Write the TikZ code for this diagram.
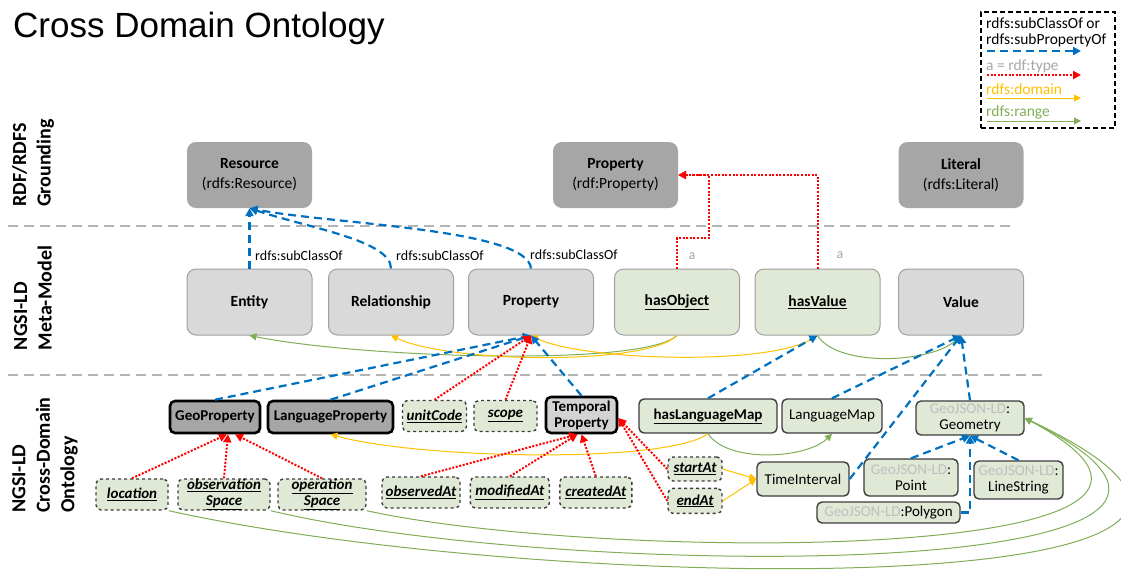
\documentclass[tikz,border=0pt]{standalone}
\usepackage{fontspec}
\setmainfont{Carlito}
\newfontfamily\titlefont{Liberation Sans}
\usetikzlibrary{positioning, arrows.meta}
\definecolor{rdf_gray}{HTML}{A6A6A6}
\definecolor{meta_gray}{HTML}{D9D9D9}
\definecolor{edge_gray}{HTML}{A0A0A0}
\definecolor{temp_gray}{HTML}{D3D3D3}
\definecolor{onto_green}{HTML}{E0E9D5}
\definecolor{dark_edge}{HTML}{3C3C3C}
\definecolor{sub_blue}{HTML}{0070C0}
\definecolor{type_red}{HTML}{FF0000}
\definecolor{dom_orange}{HTML}{FFC000}
\definecolor{rng_green}{HTML}{7FAE55}
\definecolor{sep_gray}{HTML}{B4B4B4}
\definecolor{geo_gray}{HTML}{BFBFBF}
\definecolor{label_gray}{HTML}{A6A6A6}
\newcommand{\geold}{\textcolor{geo_gray}{GeoJSON-LD}:}

\begin{document}
\begin{tikzpicture}[
    % --- Global Settings ---
    % Pixel-like units, y grows downwards
    x=1pt, y=-1pt,
    % Font for all nodes in the picture
    every node/.style={font=\fontsize{15.5}{17}\selectfont, inner sep=1pt, align=center}
  ]

  % --- Style Definitions ---
  \tikzset{
    % RDF/RDFS grounding boxes (dark gray, no border)
    rdfbox/.style={
      fill=rdf_gray,
      rounded corners=9pt,
      minimum width=125pt,
      minimum height=66pt,
      font=\fontsize{15.5}{20}\selectfont
    },
    % Meta-model boxes (light gray, thin gray border)
    metabox/.style={
      fill=meta_gray,
      draw=edge_gray,
      line width=1pt,
      rounded corners=9pt,
      minimum width=125pt,
      minimum height=66pt,
      font=\fontsize{15.5}{17}\selectfont\bfseries
    },
    % Meta-model properties (green)
    metaprop/.style={metabox, fill=onto_green},
    % Cross-domain classes (thick black border)
    classbox/.style={
      fill=rdf_gray,
      draw=black,
      line width=2.6pt,
      rounded corners=5pt,
      minimum height=32pt,
      font=\fontsize{15}{16}\selectfont\bfseries
    },
    % Cross-domain properties (dashed border)
    propbox/.style={
      fill=onto_green,
      draw=dark_edge,
      dashed,
      line width=1.4pt,
      rounded corners=5pt,
      minimum height=31pt,
      font=\fontsize{15}{16}\selectfont\bfseries\itshape
    },
    % Cross-domain values (solid border)
    valbox/.style={
      fill=onto_green,
      draw=dark_edge,
      line width=1.4pt,
      rounded corners=5pt,
      font=\fontsize{15}{16}\selectfont
    },
    % rdfs:subClassOf / rdfs:subPropertyOf
    subarrow/.style={
      draw=sub_blue,
      line width=2.2pt,
      dash pattern=on 8pt off 5pt,
      -{Triangle[length=8pt, width=8pt]}
    },
    % a = rdf:type
    typearrow/.style={
      draw=type_red,
      line width=2pt,
      dash pattern=on 2pt off 1.6pt,
      -{Triangle[length=8pt, width=8pt]}
    },
    % rdfs:domain
    domarrow/.style={
      draw=dom_orange,
      line width=1pt,
      -{Triangle[length=7pt, width=7pt]}
    },
    % rdfs:range
    rngarrow/.style={
      draw=rng_green,
      line width=1pt,
      -{Triangle[length=7pt, width=7pt]}
    },
    % Dashed lines between the layers
    sepline/.style={draw=sep_gray, line width=2pt, dash pattern=on 10pt off 6pt},
    % Layer names on the left
    lane/.style={rotate=90, align=left, font=\fontsize{20}{24.5}\selectfont\bfseries},
    % Edge labels
    relname/.style={font=\fontsize{14}{16}\selectfont, anchor=west},
    % Legend texts
    legtext/.style={font=\fontsize{15.5}{17}\selectfont, anchor=west, inner sep=0pt}
  }

  \useasboundingbox (0,0) rectangle (1121,579);

  % Title
  \node[font=\titlefont\fontsize{35}{40}\selectfont, anchor=base west, inner sep=0pt] (title) at (13,37) {Cross Domain Ontology};

  % --- Layers ---
  \node[lane] (lane1) at (33,163) {RDF/RDFS\\Grounding};
  \node[lane] (lane2) at (33,298) {NGSI-LD\\Meta-Model};
  \node[lane] (lane3) at (45,455) {NGSI-LD\\Cross-Domain\\Ontology};
  \draw[sepline] (8,226) -- (1010,226);
  \draw[sepline] (8,375) -- (1045,375);

  % --- Node Placement ---
  % RDF/RDFS grounding
  \node[rdfbox] (resource) at (249.5,175) {\textbf{Resource}\\(rdfs:Resource)};
  \node[rdfbox] (rdfprop) at (615.5,175) {\textbf{Property}\\(rdf:Property)};
  \node[rdfbox] (literal) at (961,175) {\textbf{Literal}\\(rdfs:Literal)};

  % NGSI-LD meta-model
  \node[metabox] (entity) at (249.5,302) {Entity};
  \node[metabox] (relship) at (391,302) {Relationship};
  \node[metabox] (prop) at (531,302) {Property};
  \node[metaprop] (hasobj) at (677,302) {\underline{hasObject}};
  \node[metaprop] (hasval) at (817.5,302) {\underline{hasValue}};
  \node[metabox] (value) at (961,302) {Value};

  % Cross-domain classes and properties
  \node[classbox, minimum width=90pt] (geoprop) at (215,417) {GeoProperty};
  \node[classbox, minimum width=125pt] (langprop) at (330.5,417) {LanguageProperty};
  \node[propbox, minimum width=64pt] (unitcode) at (434.5,416) {\underline{unitCode}};
  \node[propbox, minimum width=63pt] (scope) at (505.5,416) {\underline{scope}};
  \node[classbox, fill=temp_gray, minimum width=71pt, minimum height=36pt] (tempprop) at (581.5,415) {Temporal\\Property};
  \node[valbox, font=\fontsize{15}{16}\selectfont\bfseries, minimum width=138pt, minimum height=34pt] (haslangmap) at (708,416) {\underline{hasLanguageMap}};
  \node[valbox, minimum width=100pt, minimum height=34pt] (langmap) at (832,416) {LanguageMap};
  \node[valbox, minimum width=108pt, minimum height=34pt] (geometry) at (970,418) {\geold\\Geometry};

  % Properties of the geo and temporal classes
  \node[propbox, minimum width=72pt] (location) at (132,494.5) {\underline{location}};
  \node[propbox, minimum width=92pt, inner ysep=0pt] (obsspace) at (224,494.5) {\underline{observation}\\\underline{Space}};
  \node[propbox, minimum width=88pt, inner ysep=0pt] (opspace) at (322,494.5) {\underline{operation}\\\underline{Space}};
  \node[propbox, minimum width=78pt] (observedat) at (421,492.5) {\underline{observedAt}};
  \node[propbox, minimum width=79pt, right=9pt of observedat] (modifiedat) {\underline{modifiedAt}};
  \node[propbox, minimum width=72pt, right=9pt of modifiedat] (createdat) {\underline{createdAt}};
  \node[propbox, minimum width=54pt, minimum height=24pt] (startat) at (695,469) {\underline{startAt}};
  \node[propbox, minimum width=54pt, minimum height=25pt, below=6pt of startat] (endat) {\underline{endAt}};
  \node[valbox, minimum width=92pt, minimum height=34pt] (timeint) at (803,479) {TimeInterval};
  \node[valbox, minimum width=94pt, minimum height=37pt] (point) at (911,477.5) {\geold\\Point};
  \node[valbox, minimum width=89pt, minimum height=38pt] (linestr) at (1018.5,480) {\geold\\LineString};
  \node[valbox, minimum width=143pt, minimum height=21pt, inner ysep=0pt] (polygon) at (888.5,512.5) {\geold Polygon};

  % Edge labels
  \node[relname] (lbl1) at (254,256) {rdfs:subClassOf};
  \node[relname] (lbl2) at (395,256) {rdfs:subClassOf};
  \node[relname] (lbl3) at (529,255) {rdfs:subClassOf};
  \node[font=\fontsize{14}{16}\selectfont, text=label_gray] (lbla1) at (692,256) {a};
  \node[font=\fontsize{14}{16}\selectfont, text=label_gray] (lbla2) at (840,255) {a};

  % --- Path and Arrow Drawing ---
  % Meta-model to RDF/RDFS
  \draw[subarrow] (entity.north) -- (resource.south);
  \draw[subarrow] (relship.north) .. controls +(0,-28) and +(60,20) .. (resource.south);
  \draw[subarrow] (prop.north) .. controls +(-3,-40) and +(80,16) .. (resource.south);
  \coordinate (objbend) at (709,238);
  \draw[typearrow] (hasobj.north) |- (objbend) |- (rdfprop.east);
  \draw[typearrow] (hasval.north) |- (rdfprop.east);

  % Domains and ranges in the meta-model
  \draw[rngarrow] (hasobj.south) .. controls +(-35,32) and +(110,22) .. (entity.south);
  \draw[domarrow] (hasobj.south) .. controls +(-30,30) and +(60,28) .. (relship.south);
  \draw[domarrow] (hasval.south) .. controls +(-40,32) and +(50,25) .. (prop.south);
  \draw[rngarrow] (hasval.south) .. controls +(20,32) and +(-30,28) .. (value.south);

  % Cross-domain to meta-model
  \draw[subarrow] (geoprop.north) -- (prop.south);
  \draw[subarrow] (langprop.north) -- (prop.south);
  \draw[subarrow] (tempprop.north) -- (prop.south);
  \draw[typearrow] (unitcode.north) -- (prop.south);
  \draw[typearrow] (scope.north) -- (prop.south);
  \draw[subarrow] (haslangmap.north) -- (hasval.south);
  \draw[subarrow] (langmap.north) -- (value.south);
  \draw[subarrow] (timeint.east) -- (value.south);
  \draw[subarrow] (geometry.north) -- (value.south);

  % Language map
  \draw[domarrow] (haslangmap.south) .. controls +(-40,30) and +(90,25) .. (langprop.south);
  \draw[rngarrow] (haslangmap.south) .. controls +(20,30) and +(-25,25) .. (langmap.south);

  % Geo properties
  \draw[typearrow] (location.north) -- ([xshift=12pt]geoprop.south);
  \draw[typearrow] (obsspace.north) -- ([xshift=13pt]geoprop.south);
  \draw[typearrow] (opspace.north) -- ([xshift=20pt]geoprop.south);

  % Temporal properties
  \draw[typearrow] (observedat.north) -- ([xshift=-4pt]tempprop.south);
  \draw[typearrow] (modifiedat.north) -- ([xshift=-4pt]tempprop.south);
  \draw[typearrow] (createdat.north) -- (tempprop.south);
  \draw[typearrow] (startat.west) -- ([yshift=-3pt]tempprop.east);
  \draw[typearrow] (endat.west) -- ([yshift=-3pt]tempprop.east);
  \draw[domarrow] (startat.east) -- (timeint.west);
  \draw[domarrow] (endat.east) -- (timeint.west);

  % GeoJSON-LD geometries
  \draw[subarrow] (point.north) -- (geometry.south);
  \draw[subarrow] (linestr.north) -- (geometry.south);
  \draw[subarrow] (polygon.east) -| (geometry.south);

  % Ranges of the geo properties
  \draw[rngarrow] (opspace.south east) .. controls (600,562) and (1300,565) .. (geometry.east);
  \draw[rngarrow] (obsspace.south east) .. controls (560,580) and (1360,585) .. (geometry.east);
  \draw[rngarrow] (location.south east) .. controls (550,595) and (1420,605) .. (geometry.east);

  % --- Legend ---
  \node[draw=black, line width=1.5pt, dash pattern=on 5pt off 3pt, minimum width=134pt, minimum height=116pt] (legend) at (1048,70) {};
  \node[legtext] (leg1) at (986,23) {rdfs:subClassOf or};
  \node[legtext] (leg2) at (986,40) {rdfs:subPropertyOf};
  \coordinate (lga1) at (987,51);
  \coordinate (lgb1) at (1081,51);
  \draw[subarrow] (lga1) -- (lgb1);
  \node[legtext, text=label_gray] (leg3) at (986,66) {a = rdf:type};
  \coordinate (lga2) at (987,75);
  \coordinate (lgb2) at (1081,75);
  \draw[typearrow] (lga2) -- (lgb2);
  \node[legtext, text=dom_orange] (leg4) at (986,89) {rdfs:domain};
  \coordinate (lga3) at (987,98);
  \coordinate (lgb3) at (1081,98);
  \draw[domarrow] (lga3) -- (lgb3);
  \node[legtext, text=rng_green] (leg5) at (986,112) {rdfs:range};
  \coordinate (lga4) at (987,121);
  \coordinate (lgb4) at (1081,121);
  \draw[rngarrow] (lga4) -- (lgb4);

\end{tikzpicture}
\end{document}
